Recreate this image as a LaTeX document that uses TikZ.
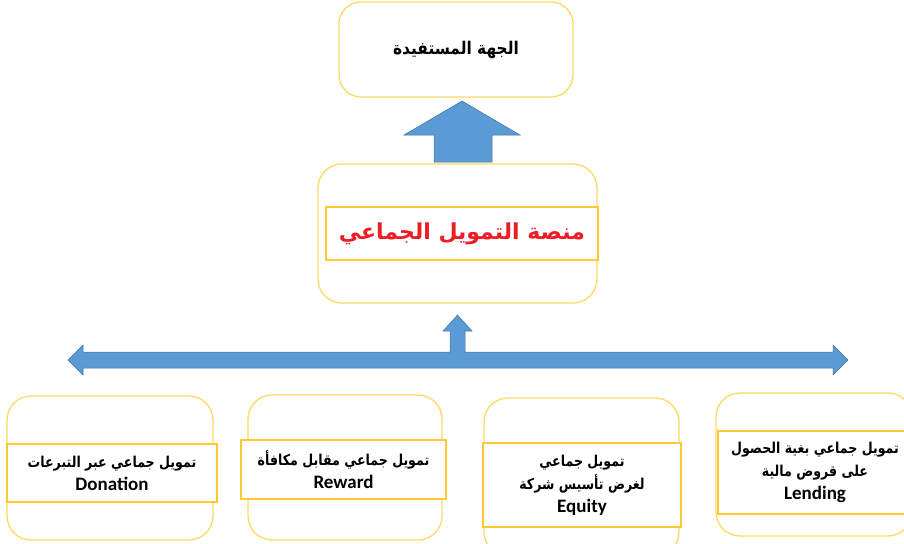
\documentclass[tikz,border=0pt]{standalone}
\usepackage{fontspec}
\setmainfont{Carlito}
\newfontfamily\arabicfont[Script=Arabic]{DejaVu Sans}
\TeXXeTstate=1
\definecolor{boxgold}{HTML}{FFD966}
\definecolor{bandgold}{HTML}{FFC933}
\definecolor{arrowblue}{HTML}{5B9BD5}
\definecolor{arrowedge}{HTML}{41719C}
\definecolor{titlered}{HTML}{EE1C25}
\newcommand{\arline}[1]{{\arabicfont\bfseries\beginR #1\endR}}
\newcommand{\arsmall}[1]{\scalebox{0.84}[1]{\arabicfont\bfseries\fontsize{15}{23}\selectfont\beginR #1\endR}}
\tikzset{
  outerbox/.style={draw=boxgold, line width=1.3pt, rounded corners=24pt, fill=white, inner sep=0pt},
  band/.style={draw=bandgold, line width=1.2pt, fill=white, align=center, inner sep=0pt,
    font=\bfseries\fontsize{19}{23}\selectfont},
  blockarrow/.style={fill=arrowblue, draw=arrowedge, line width=0.5pt},
}
\begin{document}
\begin{tikzpicture}[x=1pt,y=-1pt]
\useasboundingbox (0,0) rectangle (904,543);
% beneficiary
\node[outerbox, rounded corners=22pt, minimum width=234, minimum height=95,
  font=\fontsize{17.5}{20}\selectfont] (benef) at (456,49.5)
  {\scalebox{0.88}[1]{\arline{الجهة المستفيدة}}};
\draw[blockarrow] (434,162) -- (434,135) -- (404,135) -- (462,101) -- (520,135)
  -- (492,135) -- (492,162) -- cycle;
% platform
\node[outerbox, minimum width=279, minimum height=139] (platform) at (457.5,233.5) {};
\node[band, minimum width=272, minimum height=53, text=titlered,
  font=\fontsize{22}{26}\selectfont] (platformtxt) at (462,233.5) {\arline{منصة التمويل الجماعي}};
% branching arrow
\draw[blockarrow] (68,360) -- (83,345) -- (83,352) -- (450,352) -- (450,331) -- (443,331)
  -- (457.5,315) -- (472,331) -- (465,331) -- (465,352) -- (833,352) -- (833,345)
  -- (848,360) -- (833,375) -- (833,368) -- (83,368) -- (83,375) -- cycle;
% four kinds
\node[outerbox, minimum width=206, minimum height=144] (donation) at (110,468) {};
\node[band, minimum width=210, minimum height=58] (donationtxt) at (112,473)
  {\arsmall{تمويل جماعي عبر التبرعات}\\Donation};
\node[outerbox, minimum width=194, minimum height=145] (reward) at (345,467.5) {};
\node[band, minimum width=205, minimum height=59] (rewardtxt) at (343.5,469.5)
  {\arsmall{تمويل جماعي مقابل مكافأة}\\Reward};
\node[outerbox, minimum width=195, minimum height=158] (equity) at (581.5,477) {};
\node[band, minimum width=198, minimum height=84] (equitytxt) at (582,485)
  {\arsmall{تمويل جماعي}\\\arsmall{لغرض تأسيس شركة}\\Equity};
\node[outerbox, minimum width=196, minimum height=143] (lending) at (814,464.5) {};
\node[band, minimum width=194, minimum height=83] (lendingtxt) at (815,472.5)
  {\arsmall{تمويل جماعي بغية الحصول}\\\arsmall{على قروض مالية}\\Lending};
\end{tikzpicture}
\end{document}
